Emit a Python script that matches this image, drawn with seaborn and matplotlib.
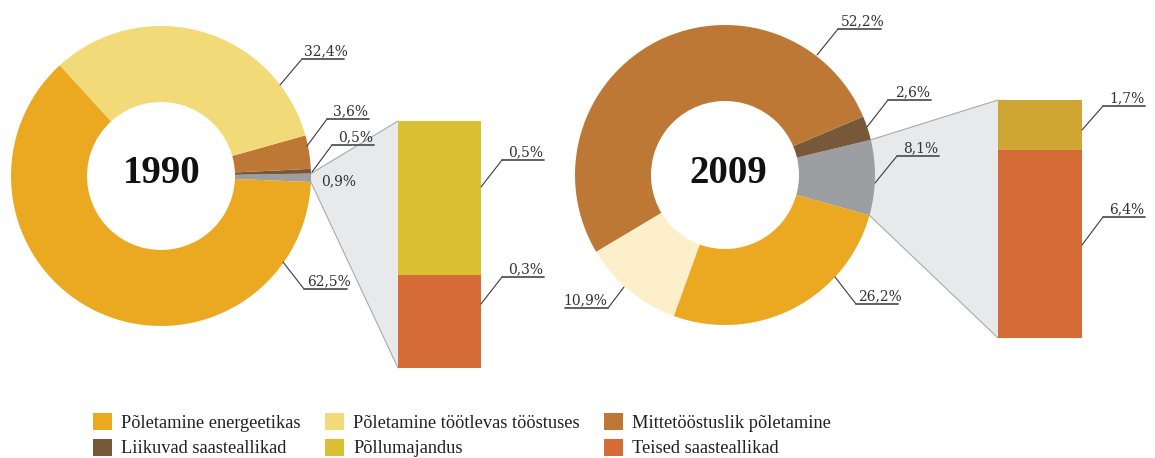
import numpy as np
import matplotlib
matplotlib.use("Agg")
import matplotlib.pyplot as plt
from matplotlib.patches import Patch
import seaborn as sns

sns.set_theme(style="white")

W, H = 1155, 458

# pie categories, counter-clockwise from the grey "other" slice
categories = ["Muud", "Liikuvad saasteallikad", "Mittetööstuslik põletamine",
              "Põletamine töötlevas tööstuses", "Põletamine energeetikas"]
shares_1990 = [0.9, 0.5, 3.6, 32.4, 62.5]
shares_2009 = [8.1, 2.6, 52.2, 10.9, 26.2]

# breakdown of the grey slice (bottom to top)
other_categories = ["Teised saasteallikad", "Põllumajandus"]
other_1990 = [0.3, 0.5]
other_2009 = [6.4, 1.7]

legend_labels = ["Põletamine energeetikas", "Liikuvad saasteallikad",
                 "Põletamine töötlevas tööstuses", "Põllumajandus",
                 "Mittetööstuslik põletamine", "Teised saasteallikad"]
legend_colors = ["#eba922", "#77593a", "#f3da79", "#dbbf33", "#be7836", "#d56b37"]

pie_colors = {
    "1990": ["#9d9ea2", "#77593a", "#be7836", "#f3da79", "#eba922"],
    "2009": ["#9d9ea2", "#77593a", "#be7836", "#feefcb", "#eba922"],
}
bar_colors = {
    "1990": ["#d56b37", "#dbbf33"],
    "2009": ["#d56b37", "#cfa533"],
}

# layout in pixels (y measured from the top)
panels = {
    "1990": dict(center=(161, 176), start=-2.3, bar=(398, 481, 121, 368), title=(162, 183),
                 shares=shares_1990, other=other_1990,
                 pie_callouts=[None, ((312, 172), (332, 145), 374), ((307, 146), (327, 119), 369),
                               ((280, 85), (302, 59), 344), ((283, 262), (304, 289), 347)],
                 plain=(321, 181),
                 bar_callouts=[(304, 277), (187, 160)]),
    "2009": dict(center=(725, 175), start=-15.6, bar=(998, 1082, 100, 338), title=(728, 183),
                 shares=shares_2009, other=other_2009,
                 pie_callouts=[((875, 183), (897, 156), 939), ((867, 127), (888, 100), 931),
                               ((817, 55), (838, 29), 881), ((624, 287), (608, 308), 565),
                               ((835, 277), (856, 304), 898)],
                 plain=None,
                 bar_callouts=[(245, 217), (130, 106)]),
}

R_OUT, RING = 150, 76


def fy(y):
    return H - y


def pct(v):
    return f"{v:.1f}".replace(".", ",") + "%"


def callout(ax, start, elbow, end, text):
    x0, y0 = start
    x1, y1 = elbow
    ax.plot([x0, x1], [fy(y0), fy(y1)], color="#3a3a3a", lw=0.8, zorder=3)
    ax.plot([x1, end], [fy(y1), fy(y1)], color="#555555", lw=1.3, zorder=3)
    cx = (x1 + end) / 2 + (3 if end > x1 else -1)
    ax.text(cx, fy(y1 - 4), text, ha="center", va="baseline", fontsize=10,
            family="DejaVu Serif", color="#333333", zorder=4)


fig = plt.figure(figsize=(W / 100, H / 100), dpi=100)
ax = fig.add_axes([0, 0, 1, 1])

for year, p in panels.items():
    cx, cy = p["center"]
    wedges, _ = ax.pie(p["shares"], colors=pie_colors[year], startangle=p["start"],
                       radius=R_OUT, center=(cx, fy(cy)),
                       wedgeprops=dict(width=RING, linewidth=0))

    # zoom connector from the grey slice to the bar
    g = wedges[0]
    t1, t2 = np.radians(g.theta1), np.radians(g.theta2)
    lo = (g.center[0] + g.r * np.cos(t1), g.center[1] + g.r * np.sin(t1))
    hi = (g.center[0] + g.r * np.cos(t2), g.center[1] + g.r * np.sin(t2))
    bx0, bx1, btop, bbot = p["bar"]
    ax.fill([hi[0], bx0, bx0, lo[0]], [hi[1], fy(btop), fy(bbot), lo[1]],
            color="#e8e9eb", lw=0, zorder=0)
    ax.plot([hi[0], bx0], [hi[1], fy(btop)], color="#aaaaaa", lw=0.8, zorder=0.5)
    ax.plot([lo[0], bx0], [lo[1], fy(bbot)], color="#aaaaaa", lw=0.8, zorder=0.5)

    # stacked bar for the grey slice
    total = sum(p["other"])
    span = bbot - btop
    bottom = fy(bbot)
    for v, c in zip(p["other"], bar_colors[year]):
        h = v / total * span
        ax.bar((bx0 + bx1) / 2, h, bottom=bottom, width=bx1 - bx0, color=c, lw=0, zorder=2)
        bottom += h

    for v, co in zip(p["shares"], p["pie_callouts"]):
        if co is not None:
            callout(ax, co[0], co[1], co[2], pct(v))
    if p["plain"] is not None:
        ax.text(p["plain"][0], fy(p["plain"][1]), pct(p["shares"][0]), ha="left", va="center",
                fontsize=10, family="DejaVu Serif", color="#333333")

    for v, (ys, ye) in zip(p["other"], p["bar_callouts"]):
        callout(ax, (bx1, ys), (bx1 + 21, ye), bx1 + 63, pct(v))

    ax.text(p["title"][0], fy(p["title"][1]), year, ha="center", va="baseline",
            fontsize=28, fontweight="bold", family="Liberation Serif", color="#111111")

handles = [Patch(facecolor=c, edgecolor="none") for c in legend_colors]
leg = ax.legend(handles, legend_labels, ncol=3, loc="upper left",
                bbox_to_anchor=(93, fy(413)), bbox_transform=ax.transData,
                frameon=False, borderpad=0, borderaxespad=0,
                handlelength=1.05, handleheight=1.05, handletextpad=0.5,
                columnspacing=1.3, labelspacing=0.38,
                prop=dict(family="Liberation Serif", size=13.2))
for t in leg.get_texts():
    t.set_color("#231f20")

ax.set_xlim(0, W)
ax.set_ylim(0, H)
ax.set_aspect("equal")
ax.axis("off")

fig.savefig("out.png", dpi=100)
